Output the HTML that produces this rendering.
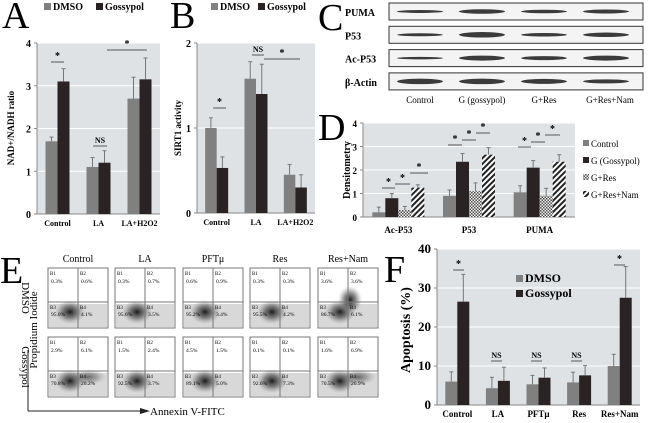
<!DOCTYPE html>
<html><head><meta charset="utf-8">
<style>
body{margin:0;background:#fff;}
svg{display:block;font-family:"Liberation Serif",serif;}
</style></head>
<body>
<svg id="fig" width="650" height="423" viewBox="0 0 650 423" xmlns="http://www.w3.org/2000/svg">
<defs>
<pattern id="chk" width="3" height="3" patternUnits="userSpaceOnUse"><rect width="3" height="3" fill="#eee"/><rect width="1.5" height="1.5" fill="#555"/><rect x="1.5" y="1.5" width="1.5" height="1.5" fill="#555"/></pattern>
<pattern id="diag" width="4" height="4" patternUnits="userSpaceOnUse" patternTransform="rotate(45)"><rect width="4" height="4" fill="#fff"/><rect width="2" height="4" fill="#222"/></pattern>
<radialGradient id="blob"><stop offset="0" stop-color="#111" stop-opacity="0.95"/><stop offset="0.5" stop-color="#444" stop-opacity="0.6"/><stop offset="1" stop-color="#888" stop-opacity="0"/></radialGradient>
</defs>
<g id="root"></g>
</svg>
<script>
// Panel A data
const aCats=["Control","LA","LA+H2O2"];
const aDmso=[1.7,1.1,2.7];
const aDmsoErr=[0.1,0.22,0.5];
const aGoss=[3.1,1.2,3.15];
const aGossErr=[0.3,0.28,0.5];
const aTicks=[0,1,2,3,4];
// Panel B data
const bCats=["Control","LA","LA+H2O2"];
const bDmso=[1.0,1.58,0.45];
const bDmsoErr=[0.12,0.2,0.12];
const bGoss=[0.53,1.4,0.3];
const bGossErr=[0.13,0.35,0.15];
const bTicks=[0,1,2];
// Panel D data
const dCats=["Ac-P53","P53","PUMA"];
const dSeriesNames=["Control","G (Gossypol)","G+Res","G+Res+Nam"];
const dControl=[0.2,0.9,1.05];
const dG=[0.8,2.35,2.1];
const dGRes=[0.3,1.1,0.9];
const dGResNam=[1.25,2.65,2.35];
const dErr=[[0.22,0.25,0.28],[0.2,0.35,0.3],[0.15,0.35,0.32],[0.12,0.3,0.3]];
const dTicks=[0,1,2,3,4];
// Panel F data
const fCats=["Control","LA","PFTμ","Res","Res+Nam"];
const fDmso=[6,4.3,5.3,5.8,10];
const fDmsoErr=[2.5,2.8,2.3,2.6,3];
const fGoss=[26.5,6.2,7,7.6,27.5];
const fGossErr=[7,3.5,2.5,2.5,8];
const fTicks=[0,10,20,30,40];

const NS="http://www.w3.org/2000/svg";
const root=document.getElementById('root');
function mk(tag,attrs,parent,text){const e=document.createElementNS(NS,tag);for(const k in attrs)e.setAttribute(k,attrs[k]);if(text!==undefined)e.textContent=text;(parent||root).appendChild(e);return e;}

function chart(cfg){
  const g=mk('g',{});
  
  
  const yS=v=>cfg.y0-(v-cfg.min)/(cfg.max-cfg.min)*(cfg.y0-cfg.yTop);
  mk('rect',{x:cfg.x0,y:cfg.yTop,width:cfg.x1-cfg.x0,height:cfg.y0-cfg.yTop,fill:'#dfe2e5'},g);
  cfg.ticks.forEach(t=>{
    const yy=yS(t);
    if(t!==cfg.min){const gl=mk('line',{x1:cfg.x0,x2:cfg.x1,y1:yy,y2:yy,stroke:'#fff','stroke-width':1},g);}
    const tl=mk('text',{x:cfg.x0-6,y:yy+4,'text-anchor':'end','font-size':cfg.tickFs,'font-weight':'bold'},g,String(t));
    
    mk('line',{x1:cfg.x0-3,x2:cfg.x0,y1:yy,y2:yy,stroke:'#888'},g);
  });
  mk('line',{x1:cfg.x0,x2:cfg.x0,y1:cfg.yTop,y2:cfg.y0,stroke:'#888'},g);
  mk('line',{x1:cfg.x0,x2:cfg.x1,y1:cfg.y0,y2:cfg.y0,stroke:'#888'},g);
  const n=cfg.cats.length, gw=(cfg.x1-cfg.x0)/n, ns=cfg.series.length;
  cfg.cats.forEach((c,i)=>{
    const cx=cfg.x0+gw*(i+0.5);
    const start=cx-ns*cfg.bw/2;
    cfg.series.forEach((s,j)=>{
      const v=s.vals[i], x=start+j*cfg.bw, yy=yS(v);
      const r=mk('rect',{x:x,y:yy,width:cfg.bw,height:cfg.y0-yy,fill:s.fill},g);
      
      
      const ye=yS(v+s.err[i]);
      const el=mk('line',{x1:x+cfg.bw/2,x2:x+cfg.bw/2,y1:yy,y2:ye,stroke:'#777','stroke-width':1},g);
      
      mk('line',{x1:x+cfg.bw/2-2,x2:x+cfg.bw/2+2,y1:ye,y2:ye,stroke:'#777'},g);
    });
    const xl=mk('text',{x:cx,y:cfg.y0+cfg.labOff,'text-anchor':'middle','font-size':cfg.labFs,'font-weight':'bold'},g,c);
    
  });
  return {g,yS,gw};
}
function txt(x,y,s,fs,extra,name){const t=mk('text',Object.assign({x:x,y:y,'font-size':fs},extra||{}),root,s);return t;}
function sig(x1,x2,y,lab){mk('line',{x1:x1,x2:x2,y1:y,y2:y,stroke:'#555'});txt((x1+x2)/2,y-3,lab,lab==='NS'?8:10,{'text-anchor':'middle','font-weight':'bold'},'significance-mark');}

const DM='#808080', GO='#2a2323';
// Panel A
txt(2,28,'A',38,{},'panel-label-a');
mk('rect',{x:44,y:3,width:7,height:7,fill:DM});txt(53,10,'DMSO',10,{'font-weight':'bold'},'legend-dmso');
mk('rect',{x:96,y:3,width:7,height:7,fill:GO});txt(105,10,'Gossypol',10,{'font-weight':'bold'},'legend-gossypol');
chart({name:'chart-a',x0:37,x1:160,y0:214,yTop:43,min:0,max:4,ticks:aTicks,cats:aCats,bw:12,tickFs:10,labFs:8,labOff:12,
 series:[{key:'dmso',vals:aDmso,err:aDmsoErr,fill:DM},{key:'gossypol',vals:aGoss,err:aGossErr,fill:GO}]});
txt(14,128,'NAD+/NADH ratio',9,{'text-anchor':'middle','font-weight':'bold',transform:'rotate(-90 14 128)'},'y-axis-title-a');
sig(51,64,62,'*');sig(93,107,146,'NS');sig(107,147,50,'*');
// Panel B
txt(170,28,'B',38,{},'panel-label-b');
mk('rect',{x:211,y:3,width:7,height:7,fill:DM});txt(220,10,'DMSO',10,{'font-weight':'bold'},'legend-dmso-b');
mk('rect',{x:258,y:3,width:7,height:7,fill:GO});txt(267,10,'Gossypol',10,{'font-weight':'bold'},'legend-gossypol-b');
chart({name:'chart-b',x0:197,x1:315,y0:213,yTop:43,min:0,max:2,ticks:bTicks,cats:bCats,bw:11.5,tickFs:10,labFs:8,labOff:12,
 series:[{key:'dmso',vals:bDmso,err:bDmsoErr,fill:DM},{key:'gossypol',vals:bGoss,err:bGossErr,fill:GO}]});
txt(181,128,'SIRT1  activity',9,{'text-anchor':'middle','font-weight':'bold',transform:'rotate(-90 181 128)'},'y-axis-title-b');
sig(213,226,108,'*');sig(252,264,55,'NS');sig(264,300,59,'*');
// Panel C blots
txt(318,30,'C',38,{},'panel-label-c');
const blotRows=['PUMA','P53','Ac-P53','β-Actin'];
const blotW=[[2,3.5,2.5,3],[2,4.5,2.5,3.5],[1.5,4,3,4],[4.5,4.5,4,3]];
blotRows.forEach((r,i)=>{
  const y=3+i*23.3;
  const bx=mk('rect',{x:389,y:y,width:254,height:17,fill:'#f4f4f4',stroke:'#333','stroke-width':1});
  
  txt(345,y+13,r,10,{'font-weight':'bold'},'blot-label');
  blotW[i].forEach((w,j)=>{mk('ellipse',{cx:420+j*62,cy:y+8.5,rx:23,ry:w/2+0.5,fill:'#1a1a1a',opacity:0.85});});
});
['Control','G (gossypol)','G+Res','G+Res+Nam'].forEach((l,j)=>txt(420+j*62+ (j==3?4:0),103,l,9,{'text-anchor':'middle'},'lane-label'));
// Panel D
txt(318,140,'D',38,{},'panel-label-d');
chart({name:'chart-d',x0:363,x1:575,y0:217,yTop:123,min:0,max:4,ticks:dTicks,cats:dCats,bw:13,tickFs:9,labFs:9,labOff:16,
 series:[{key:'control',vals:dControl,err:dErr[0],fill:DM},{key:'g',vals:dG,err:dErr[1],fill:GO},{key:'gres',vals:dGRes,err:dErr[2],fill:'url(#chk)'},{key:'gresnam',vals:dGResNam,err:dErr[3],fill:'url(#diag)'}]});
txt(350,170,'Densitometry',10,{'text-anchor':'middle','font-weight':'bold',transform:'rotate(-90 350 170)'},'y-axis-title-d');
const dFills=[DM,GO,'url(#chk)','url(#diag)'];
dSeriesNames.forEach((n,i)=>{mk('rect',{x:583,y:140+i*17,width:6,height:6,fill:dFills[i]});txt(591,147+i*17,n,9,{},'legend-d-entry');});
sig(382,395,188,'*');sig(395,410,184,'*');sig(410,428,173,'*');
sig(448,462,145,'*');sig(462,476,140,'*');sig(476,490,133,'*');
sig(518,531,147,'*');sig(531,545,142,'*');sig(545,560,135,'*');
// Panel E flow plots
txt(0,283,'E',38,{},'panel-label-e');
const eCols=['Control','LA','PFTμ','Res','Res+Nam'];
const eTop=[['0.3%','0.6%','95.0%','4.1%'],['0.3%','0.7%','95.6%','3.5%'],['0.6%','0.9%','95.2%','3.4%'],['0.3%','0.3%','95.5%','4.2%'],['3.6%','3.6%','86.7%','6.1%']];
const eBot=[['2.9%','6.1%','70.8%','20.2%'],['1.5%','2.4%','92.5%','3.7%'],['4.5%','1.5%','89.1%','5.0%'],['0.1%','0.1%','92.6%','7.3%'],['1.6%','6.9%','70.5%','20.9%']];
const colX=[48,115,183,250,318];
eCols.forEach((c,i)=>{
  txt(colX[i]+30,262,c,10,{'text-anchor':'middle'},'flow-column-label');
  [[268,eTop[i]],[337,eBot[i]]].forEach(([y,q],r)=>{
    const x=colX[i];
    const b=mk('rect',{x:x,y:y,width:60,height:60,fill:'#fff',stroke:'#777'});
    
    mk('rect',{x:x+1,y:y+36,width:58,height:23,fill:'#c8c8c8',opacity:0.7});
    mk('ellipse',{cx:x+22,cy:y+44,rx:15,ry:12,fill:'url(#blob)'});
    if(r===1&&(i===0||i===4))mk('ellipse',{cx:x+40,cy:y+40,rx:18,ry:8,fill:'url(#blob)',opacity:0.6});
    if(r===0&&i===4)mk('ellipse',{cx:x+32,cy:y+32,rx:12,ry:14,fill:'url(#blob)'});
    mk('line',{x1:x+30,x2:x+30,y1:y,y2:y+60,stroke:'#777'});
    mk('line',{x1:x,x2:x+60,y1:y+34,y2:y+34,stroke:'#777'});
    txt(x+2,y+7,'B1',5,{},'quad');txt(x+32,y+7,'B2',5,{},'quad');
    txt(x+3,y+15,q[0],5.5,{},'quad-pct');txt(x+33,y+15,q[1],5.5,{},'quad-pct');
    txt(x+2,y+41,'B3',5,{},'quad');txt(x+32,y+41,'B4',5,{},'quad');
    txt(x+3,y+48,q[2],5.5,{},'quad-pct');txt(x+33,y+48,q[3],5.5,{},'quad-pct');
  });
});
txt(22,298,'DMSO',11,{'text-anchor':'middle',transform:'rotate(90 22 298)'},'row-label-dmso');
txt(22,367,'Gossypol',11,{'text-anchor':'middle',transform:'rotate(90 22 367)'},'row-label-gossypol');
txt(37,330,'Propidium Iodide',11,{'text-anchor':'middle',transform:'rotate(-90 37 330)'},'y-axis-title-e');
mk('line',{x1:28,x2:28,y1:350,y2:411,stroke:'#222'});
mk('line',{x1:28,x2:140,y1:411,y2:411,stroke:'#222'});
mk('polygon',{points:'140,408 150,411 140,414',fill:'#222'});
txt(150,415,'Annexin V-FITC',11,{},'x-axis-title-e');
// Panel F
txt(384,282,'F',38,{},'panel-label-f');
chart({name:'chart-f',x0:437,x1:640,y0:405,yTop:249,min:0,max:40,ticks:fTicks,cats:fCats,bw:12,tickFs:13,labFs:9,labOff:12,
 series:[{key:'dmso',vals:fDmso,err:fDmsoErr,fill:DM},{key:'gossypol',vals:fGoss,err:fGossErr,fill:GO}]});
txt(410,330,'Apoptosis (%)',14,{'text-anchor':'middle','font-weight':'bold',transform:'rotate(-90 410 330)'},'y-axis-title-f');
mk('rect',{x:516,y:275,width:7,height:7,fill:DM});txt(525,282,'DMSO',12,{'font-weight':'bold'},'legend-f-dmso');
mk('rect',{x:516,y:290,width:7,height:7,fill:GO});txt(525,297,'Gossypol',12,{'font-weight':'bold'},'legend-f-gossypol');
sig(453,464,270,'*');sig(491,502,361,'NS');sig(531,542,361,'NS');sig(571,582,361,'NS');sig(614,625,265,'*');
</script>
</body></html>
